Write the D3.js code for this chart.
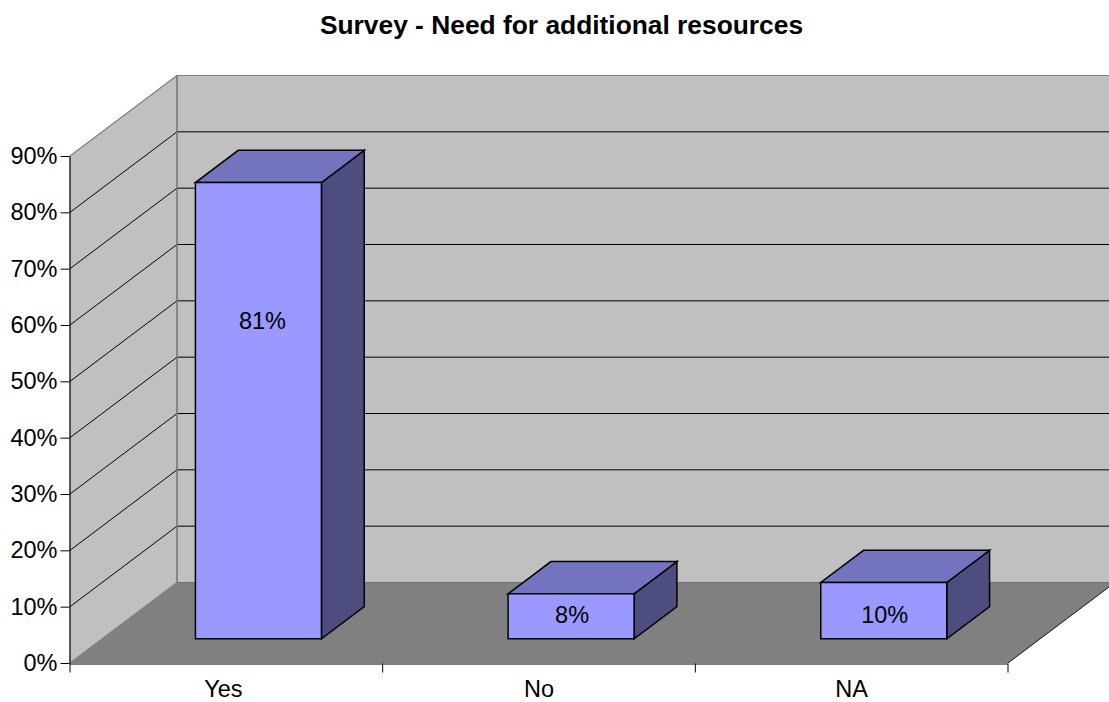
<!DOCTYPE html>
<html>
<head>
<meta charset="utf-8">
<script src="https://cdn.jsdelivr.net/npm/d3@7"></script>
<style>
  html, body { margin: 0; padding: 0; background: #fff; overflow: hidden; }
  svg { display: block; }
  text { font-family: "Liberation Sans", Arial, sans-serif; fill: #000; }
</style>
</head>
<body>
<svg id="chart" width="1109" height="702"></svg>
<script>
// Survey results
const chartTitle = "Survey - Need for additional resources";
const categories = ["Yes", "No", "NA"];
const percentages = [81, 8, 10];
const percentTicks = [0, 10, 20, 30, 40, 50, 60, 70, 80, 90];

const width = 1109, height = 702;
const svg = d3.select("#chart");

// Front plane of the box
const y = d3.scaleLinear().domain([0, 90]).range([663, 156]);
const xEdge = d3.scaleLinear().domain([0, categories.length]).range([70, 1008]);
const x = d3.scaleBand().domain(categories).range([70, 1008]).paddingInner(0.597).paddingOuter(0.2985);

// Oblique projection: depth 0 is the front plane, depth 1 the back wall
const depthX = d3.scaleLinear().domain([0, 1]).range([0, 107]);
const depthY = d3.scaleLinear().domain([0, 1]).range([0, -80.5]);
const project = (px, py, depth) => [px + depthX(depth), py + depthY(depth)];
const line = d3.line();
const poly = pts => line(pts) + "Z";

const clip = svg.append("defs").append("clipPath").attr("id", "plot");
clip.append("rect").attr("width", width).attr("height", height);

const box = svg.append("g").attr("clip-path", "url(#plot)");
const [x0, x1] = xEdge.range();
const y0 = y(0), yTop = y(90);

// Back wall
box.append("path")
  .attr("d", poly([project(x0, yTop, 1), project(x1, yTop, 1), project(x1, y0, 1), project(x0, y0, 1)]))
  .attr("fill", "#c0c0c0").attr("stroke", "#808080").attr("stroke-width", 1.2);

// Side wall
box.append("path")
  .attr("d", poly([[x0, yTop], project(x0, yTop, 1), project(x0, y0, 1), [x0, y0]]))
  .attr("fill", "#c0c0c0").attr("stroke", "#808080").attr("stroke-width", 1.2);

// Floor
box.append("path")
  .attr("d", poly([[x0, y0], [x1, y0], project(x1, y0, 1), project(x0, y0, 1)]))
  .attr("fill", "#808080");

// Gridlines across side and back walls
const gridValues = percentTicks.filter(t => t > 0 && t < 90);
box.append("g").selectAll("path").data(gridValues).join("path")
  .attr("d", t => line([[x0, y(t)], project(x0, y(t), 1), project(x1, y(t), 1)]))
  .attr("fill", "none").attr("stroke", "#000").attr("stroke-width", 1);

// Redraw the corner edge over the gridlines
box.append("path")
  .attr("d", line([project(x0, yTop, 1), project(x0, y0, 1)]))
  .attr("stroke", "#808080").attr("stroke-width", 1.4).attr("fill", "none");
box.append("path")
  .attr("d", line([project(x0, y0, 1), project(x1, y0, 1)]))
  .attr("stroke", "#6f6f6f").attr("stroke-width", 1).attr("fill", "none");

// Floor right-hand edge
box.append("path")
  .attr("d", line([[x1, y0], project(x1, y0, 1)]))
  .attr("stroke", "#000").attr("stroke-width", 0.9).attr("fill", "none");

// Bars occupy the middle of the depth range
const zFront = 0.3, zBack = 0.7;
const bars = svg.append("g").selectAll("g")
  .data(categories.map((c, i) => ({ c, v: percentages[i] })))
  .join("g")
  .attr("stroke", "#000").attr("stroke-width", 1.5).attr("stroke-linejoin", "miter");

const corners = d => {
  const l = x(d.c), r = l + x.bandwidth();
  return { l, r, t: y(d.v), b: y(0) };
};
bars.append("path").attr("fill", "#4d4d80").attr("d", d => {
  const { r, t, b } = corners(d);
  return poly([project(r, t, zFront), project(r, t, zBack), project(r, b, zBack), project(r, b, zFront)]);
});
bars.append("path").attr("fill", "#7373bf").attr("d", d => {
  const { l, r, t } = corners(d);
  return poly([project(l, t, zFront), project(r, t, zFront), project(r, t, zBack), project(l, t, zBack)]);
});
bars.append("path").attr("fill", "#9999ff").attr("d", d => {
  const { l, r, t, b } = corners(d);
  return poly([project(l, t, zFront), project(r, t, zFront), project(r, b, zFront), project(l, b, zFront)]);
});

// Value labels on the bar fronts
const labelFont = 23.5;
bars.append("text")
  .attr("stroke", "none")
  .attr("text-anchor", "middle")
  .attr("font-size", labelFont)
  .attr("x", (d, i) => project(x(d.c) + x.bandwidth() / 2, 0, zFront)[0] + (i === 0 ? 4 : 1))
  .attr("y", (d, i) => project(0, y(i === 0 ? 56.4 : 4.3), zFront)[1])
  .attr("dy", "0.355em")
  .text(d => d.v + "%");

// Value axis
const yAxis = d3.axisLeft(y).tickValues(percentTicks).tickSize(9).tickSizeOuter(0)
  .tickPadding(3).tickFormat(t => t + "%");
const yG = svg.append("g").attr("transform", `translate(${x0 - 0.5},0)`).call(yAxis);
yG.select(".domain").attr("stroke", "#000").attr("stroke-width", 1);
yG.selectAll("line").attr("stroke", "#000").attr("stroke-width", 1);
yG.selectAll("text").attr("font-size", labelFont);

// Category axis: ticks on category boundaries, labels centred beneath them
const xAxis = d3.axisBottom(xEdge).ticks(categories.length).tickSize(9).tickSizeOuter(0).tickFormat("");
const xG = svg.append("g").attr("transform", `translate(-0.5,${y0 + 0.5})`).call(xAxis);
xG.select(".domain").attr("stroke", "#000").attr("stroke-width", 1);
xG.selectAll("line").attr("stroke", "#000").attr("stroke-width", 1);

svg.append("g").selectAll("text").data(categories).join("text")
  .attr("text-anchor", "middle")
  .attr("font-size", labelFont)
  .attr("x", (c, i) => x(c) + x.bandwidth() / 2 + (i === 0 ? -3 : 0))
  .attr("y", 696.5)
  .text(c => c);

// Title
svg.append("text")
  .attr("x", 561.5).attr("y", 34)
  .attr("text-anchor", "middle")
  .attr("font-size", 26.35)
  .attr("font-weight", "bold")
  .text(chartTitle);
</script>
</body>
</html>
